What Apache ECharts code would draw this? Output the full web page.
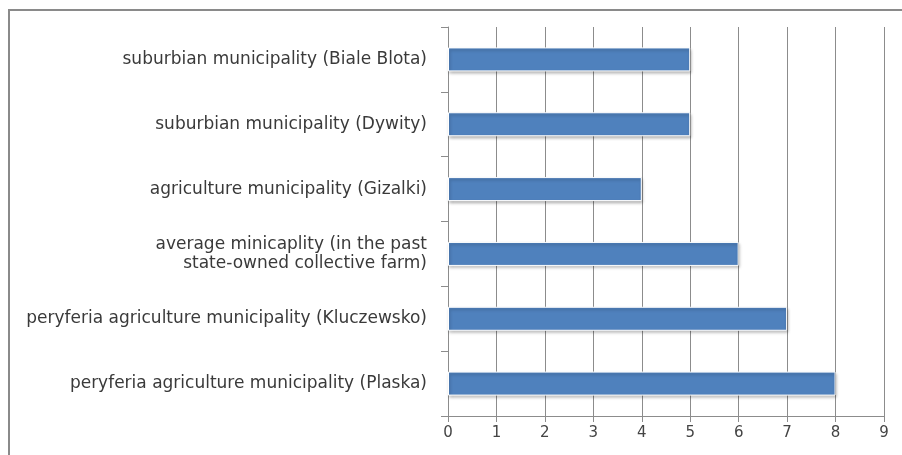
<!DOCTYPE html>
<html>
<head>
<meta charset="utf-8">
<script src="https://cdn.jsdelivr.net/npm/echarts@6/dist/echarts.min.js"></script>
<style>
  html, body { margin: 0; padding: 0; background: #fff; }
  #chart { width: 902px; height: 455px; }
</style>
</head>
<body>
<div id="chart"></div>
<script>
// categories listed bottom -> top (category axis starts at the bottom)
var categories = [
  'peryferia agriculture municipality (Plaska)',
  'peryferia agriculture municipality (Kluczewsko)',
  'average minicaplity (in the past\nstate-owned collective farm)',
  'agriculture municipality (Gizalki)',
  'suburbian municipality (Dywity)',
  'suburbian municipality (Biale Blota)'
];
var values = [8, 7, 6, 4, 5, 5];
var xTicks = [0, 1, 2, 3, 4, 5, 6, 7, 8, 9];

var myChart = echarts.init(document.getElementById('chart'));
var option = {
  animation: false,
  backgroundColor: '#fff',
  graphic: [
    { // outer frame, only top and left edges visible
      type: 'polyline',
      shape: { points: [[9, 455], [9, 10], [902, 10]] },
      style: { stroke: '#8a8a8a', lineWidth: 2, fill: null }
    }
  ],
  grid: { left: 448, right: 18, top: 27, bottom: 39 },
  xAxis: {
    type: 'value',
    min: xTicks[0],
    max: xTicks[xTicks.length - 1],
    interval: 1,
    axisLine: { show: true, lineStyle: { color: '#8c8c8c', width: 1 } },
    axisTick: { show: true, length: 6, lineStyle: { color: '#8c8c8c' } },
    splitLine: { show: true, lineStyle: { color: '#8c8c8c', width: 1 } },
    axisLabel: { color: '#444', fontSize: 15, fontFamily: 'DejaVu Sans', margin: 10 }
  },
  yAxis: {
    type: 'category',
    data: categories,
    axisLine: { show: true, lineStyle: { color: '#8c8c8c', width: 1 } },
    axisTick: { show: true, length: 7, lineStyle: { color: '#8c8c8c' } },
    axisLabel: { color: '#3a3a3a', fontSize: 17, fontFamily: 'DejaVu Sans', margin: 21, lineHeight: 19 }
  },
  series: [
    {
      type: 'bar',
      data: values,
      barWidth: 24,
      itemStyle: {
        color: '#4f81bd',
        borderColor: '#ffffff',
        borderWidth: 1,
        shadowColor: 'rgba(0,0,0,0.3)',
        shadowBlur: 3,
        shadowOffsetX: 1,
        shadowOffsetY: 2
      }
    }
  ]
};
myChart.setOption(option);
</script>
</body>
</html>
